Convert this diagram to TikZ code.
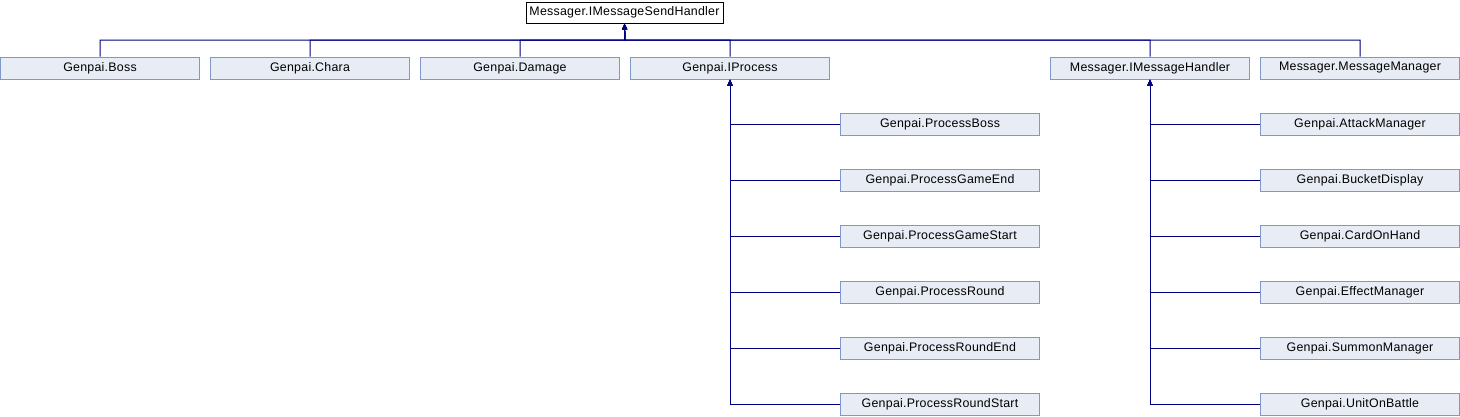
\documentclass[tikz,border=0pt]{standalone}
\usepackage{fontspec}
\setmainfont{Liberation Sans}[LetterSpace=2]
\usepackage{xcolor}
\usetikzlibrary{arrows.meta,positioning,calc}

\definecolor{clsfill}{HTML}{E8ECF5}
\definecolor{clsdraw}{HTML}{7F97C9}
\definecolor{linkcol}{HTML}{000080}

\tikzset{
    cls/.style={draw=clsdraw, fill=clsfill, line width=1pt, minimum width=199pt,
        minimum height=22pt, inner sep=0pt, font=\fontsize{12.4}{14}\selectfont},
    rootcls/.style={cls, draw=black, fill=white},
    inherit/.style={draw=linkcol, line width=1pt, -{Triangle[width=5pt,length=6pt]}}
}

\begin{document}
\begin{tikzpicture}[x=1pt, y=1pt]
    \useasboundingbox (0,0) rectangle (1460,-416);

    % Root interface
    \node[rootcls, minimum width=197pt, minimum height=21pt] (send) at (624.5,-12.5) {Messager.IMessageSendHandler};
    \coordinate (bus) at (625,-40);

    % First row of derived classes
    \foreach \name/\x/\label in {boss/100/Genpai.Boss, chara/310/Genpai.Chara,
        damage/520/Genpai.Damage, iproc/730/Genpai.IProcess,
        ihandler/1150/Messager.IMessageHandler, manager/1360/Messager.MessageManager} {
        \node[cls] (\name) at (\x,-68) {\label};
        \draw[inherit] (\name.north) |- (bus) -- (send.south);
    }

    % Processes
    \foreach \name/\y/\label in {pboss/124/Genpai.ProcessBoss, pgameend/180/Genpai.ProcessGameEnd,
        pgamestart/236/Genpai.ProcessGameStart, pround/292/Genpai.ProcessRound,
        proundend/348/Genpai.ProcessRoundEnd, proundstart/404/Genpai.ProcessRoundStart} {
        \node[cls] (\name) at (940,-\y) {\label};
        \draw[inherit] (\name.west) -| (iproc.south);
    }

    % Message handlers
    \foreach \name/\y/\label in {attack/124/Genpai.AttackManager, bucket/180/Genpai.BucketDisplay,
        cardhand/236/Genpai.CardOnHand, effect/292/Genpai.EffectManager,
        summon/348/Genpai.SummonManager, unit/404/Genpai.UnitOnBattle} {
        \node[cls] (\name) at (1360,-\y) {\label};
        \draw[inherit] (\name.west) -| (ihandler.south);
    }

\end{tikzpicture}
\end{document}
